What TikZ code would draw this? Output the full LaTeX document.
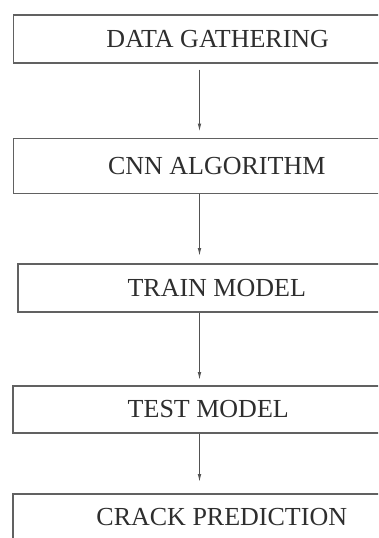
\documentclass[tikz,border=0pt]{standalone}
\usepackage{fontspec}
\setmainfont{Liberation Serif}
\usetikzlibrary{arrows.meta}
\begin{document}
\begin{tikzpicture}[x=1pt,y=1pt,
  stepbox/.style={draw=black!62,line width=1.5pt,rectangle,inner sep=0pt,
    minimum height=#1,anchor=north west,text=black!82,
    font=\fontsize{26}{28}\selectfont},
  arr/.style={draw=black!68,line width=1pt,-{Latex[length=8pt,width=3.6pt]}}]
\useasboundingbox (0,0) rectangle (378,-538);
\clip (0,0) rectangle (378,-538);
\fill[white] (0,0) rectangle (378,-538);
\coordinate (ax) at (199.5,0);
\node[stepbox=48pt,minimum width=409pt] (b1) at (12.5,-14) {DATA GATHERING};
\node[stepbox=55pt,minimum width=407pt] (b2) at (12.5,-137.5) {CNN ALGORITHM};
\node[stepbox=48pt,minimum width=398pt] (b3) at (17,-263) {TRAIN MODEL};
\node[stepbox=47pt,minimum width=391pt] (b4) at (12,-385) {TEST MODEL};
\node[stepbox=46pt,minimum width=418pt] (b5) at (12,-493) {CRACK PREDICTION};
\draw[arr] ([yshift=-6pt]b1.south -| ax) -- ([yshift=6pt]b2.north -| ax);
\draw[arr] (b2.south -| ax) -- ([yshift=7pt]b3.north -| ax);
\draw[arr] (b3.south -| ax) -- ([yshift=5pt]b4.north -| ax);
\draw[arr] (b4.south -| ax) -- ([yshift=11pt]b5.north -| ax);
\end{tikzpicture}
\end{document}
